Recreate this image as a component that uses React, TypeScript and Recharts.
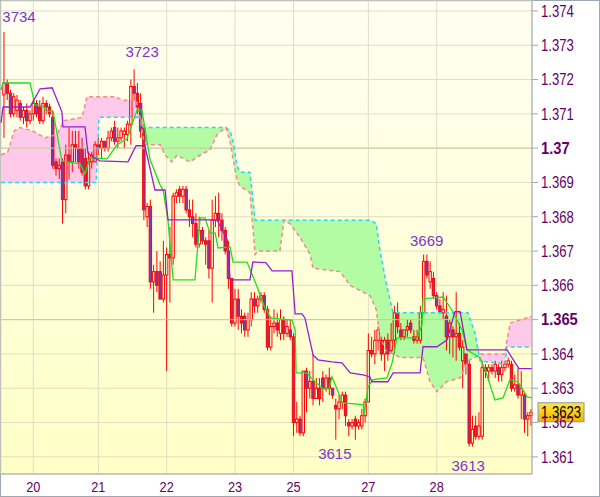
import React from "react";
import { ComposedChart, Bar, Line, Area, Scatter, XAxis, YAxis, CartesianGrid, ReferenceLine } from "recharts";

// hourly bars: open, high, low, close
const ohlc: number[][] = [
  [1.37155, 1.37339, 1.3703, 1.3719], [1.3719, 1.372, 1.3714, 1.3716], [1.3716, 1.3717, 1.3709, 1.371], [1.371, 1.3716, 1.3709, 1.3715],
  [1.3711, 1.37155, 1.3709, 1.3714], [1.3713, 1.3714, 1.3708, 1.3709], [1.3709, 1.3712, 1.3707, 1.3711], [1.3711, 1.3713, 1.3706, 1.3708],
  [1.3708, 1.3711, 1.3707, 1.371], [1.371, 1.3714, 1.3708, 1.3713], [1.3713, 1.3714, 1.3709, 1.371], [1.3712, 1.3714, 1.3707, 1.3708],
  [1.3708, 1.3715, 1.3707, 1.3713], [1.3713, 1.3714, 1.371, 1.3712], [1.3712, 1.3713, 1.3709, 1.371], [1.3709, 1.3711, 1.3694, 1.3695],
  [1.3696, 1.3697, 1.3692, 1.3694], [1.3694, 1.3697, 1.3691, 1.3695], [1.3696, 1.3697, 1.3678, 1.3685], [1.3685, 1.3701, 1.3681, 1.3698],
  [1.3698, 1.3706, 1.3691, 1.3696], [1.3696, 1.3705, 1.3693, 1.3701], [1.3701, 1.3705, 1.3696, 1.37], [1.37, 1.3705, 1.3694, 1.3696],
  [1.37, 1.3703, 1.3692, 1.3693], [1.3697, 1.37, 1.3688, 1.3689], [1.3689, 1.3699, 1.3688, 1.3696], [1.3696, 1.3699, 1.3694, 1.3698],
  [1.3696, 1.3702, 1.3696, 1.3701], [1.3701, 1.3703, 1.3698, 1.37], [1.37, 1.3703, 1.3697, 1.3702], [1.3702, 1.3702, 1.3699, 1.37],
  [1.37, 1.3705, 1.3699, 1.3703], [1.3703, 1.3706, 1.3702, 1.3705], [1.3706, 1.3708, 1.3701, 1.3702], [1.3702, 1.3706, 1.37, 1.3703],
  [1.3703, 1.3706, 1.3702, 1.3705], [1.3704, 1.3706, 1.37, 1.3705], [1.3704, 1.3708, 1.3702, 1.3707], [1.3707, 1.372, 1.3701, 1.3718],
  [1.3718, 1.3723, 1.3714, 1.3716], [1.3716, 1.3719, 1.371, 1.3712], [1.3713, 1.3716, 1.3703, 1.3705], [1.3706, 1.3707, 1.3679, 1.3682],
  [1.368, 1.3684, 1.3677, 1.3683], [1.3683, 1.3685, 1.3659, 1.3661], [1.3661, 1.3666, 1.3652, 1.3664], [1.3664, 1.367, 1.3658, 1.366],
  [1.3664, 1.3667, 1.3656, 1.3656], [1.3656, 1.3673, 1.3655, 1.3663], [1.3663, 1.3671, 1.3635, 1.3669], [1.3669, 1.3677, 1.3655, 1.3668],
  [1.3668, 1.3687, 1.3666, 1.3686], [1.3686, 1.3688, 1.3684, 1.3687], [1.3688, 1.3689, 1.3684, 1.3686], [1.3686, 1.3689, 1.3684, 1.3688],
  [1.3688, 1.3689, 1.3681, 1.3682], [1.3682, 1.3685, 1.3677, 1.368], [1.368, 1.3685, 1.3674, 1.3678], [1.3678, 1.3681, 1.3671, 1.3672],
  [1.3672, 1.368, 1.3671, 1.3676], [1.3676, 1.3677, 1.3672, 1.3673], [1.3673, 1.3674, 1.3666, 1.3672], [1.3673, 1.3676, 1.3662, 1.3665],
  [1.3665, 1.3685, 1.3655, 1.3679], [1.3679, 1.3686, 1.3677, 1.3681], [1.3681, 1.3687, 1.3674, 1.3679], [1.3679, 1.3681, 1.3673, 1.3676],
  [1.3676, 1.3677, 1.3669, 1.367], [1.367, 1.3673, 1.3659, 1.3662], [1.3662, 1.3662, 1.3648, 1.3649], [1.3649, 1.3659, 1.3648, 1.3656],
  [1.3656, 1.3659, 1.3647, 1.3651], [1.3651, 1.3653, 1.3646, 1.3649], [1.3651, 1.3652, 1.3645, 1.3647], [1.3647, 1.3652, 1.3645, 1.365],
  [1.365, 1.3658, 1.3648, 1.3656], [1.3656, 1.3658, 1.3652, 1.3654], [1.3654, 1.3657, 1.3652, 1.3656], [1.3656, 1.3658, 1.3655, 1.3657],
  [1.3657, 1.3658, 1.3652, 1.3653], [1.3653, 1.3654, 1.3641, 1.3642], [1.3642, 1.3651, 1.3641, 1.3648], [1.3648, 1.3653, 1.3646, 1.3649],
  [1.3649, 1.3652, 1.3645, 1.3647], [1.3646, 1.3653, 1.3644, 1.365], [1.365, 1.3651, 1.3644, 1.3646], [1.3646, 1.365, 1.3645, 1.3648],
  [1.3647, 1.365, 1.3644, 1.3645], [1.3645, 1.3646, 1.3616, 1.362], [1.362, 1.3626, 1.3617, 1.3621], [1.3621, 1.3622, 1.3616, 1.3617],
  [1.3617, 1.3635, 1.3616, 1.3635], [1.3635, 1.3636, 1.3623, 1.363], [1.363, 1.3635, 1.3627, 1.3632], [1.3632, 1.364, 1.3625, 1.3627],
  [1.3627, 1.3633, 1.3627, 1.363], [1.363, 1.3633, 1.3625, 1.3627], [1.3633, 1.3635, 1.3626, 1.363], [1.363, 1.3634, 1.3629, 1.3633],
  [1.3633, 1.3636, 1.3628, 1.363], [1.363, 1.363, 1.3627, 1.3628], [1.3625, 1.3627, 1.3615, 1.3624], [1.3624, 1.3628, 1.3621, 1.3626],
  [1.3626, 1.3629, 1.3624, 1.3628], [1.3628, 1.3629, 1.3619, 1.3622], [1.362, 1.3621, 1.3616, 1.3619], [1.3619, 1.3621, 1.3618, 1.362],
  [1.3621, 1.3622, 1.3615, 1.3619], [1.3619, 1.3621, 1.3618, 1.362], [1.3619, 1.3624, 1.3618, 1.3622], [1.3622, 1.3627, 1.362, 1.3626],
  [1.3626, 1.3646, 1.3626, 1.3641], [1.3641, 1.3645, 1.3639, 1.364], [1.364, 1.3647, 1.3637, 1.3644], [1.3644, 1.3648, 1.3641, 1.3647],
  [1.3644, 1.3645, 1.3638, 1.364], [1.364, 1.3645, 1.3635, 1.3644], [1.3644, 1.3646, 1.3638, 1.364], [1.3641, 1.3649, 1.364, 1.3644],
  [1.3644, 1.3654, 1.364, 1.3652], [1.3652, 1.3655, 1.3646, 1.3648], [1.3647, 1.3649, 1.3644, 1.3645], [1.3645, 1.3647, 1.3644, 1.3647],
  [1.3647, 1.365, 1.3645, 1.3648], [1.3649, 1.365, 1.3646, 1.3647], [1.3645, 1.3647, 1.3643, 1.3644], [1.3644, 1.3647, 1.3643, 1.3645],
  [1.3644, 1.3654, 1.3643, 1.3652], [1.3652, 1.3669, 1.3652, 1.3667], [1.3667, 1.3669, 1.3662, 1.3663], [1.3661, 1.3667, 1.3659, 1.3664],
  [1.3662, 1.3664, 1.3656, 1.3657], [1.3657, 1.3658, 1.3653, 1.3654], [1.3654, 1.3656, 1.3652, 1.3652], [1.3652, 1.3658, 1.365, 1.3653],
  [1.3651, 1.3657, 1.3641, 1.3645], [1.3645, 1.365, 1.364, 1.3649], [1.3647, 1.3648, 1.3639, 1.3645], [1.3645, 1.3658, 1.3638, 1.3646],
  [1.3646, 1.3649, 1.3641, 1.3642], [1.3638, 1.3644, 1.363, 1.3642], [1.364, 1.364, 1.3634, 1.3637], [1.3637, 1.3638, 1.3613, 1.3614],
  [1.3614, 1.3622, 1.3613, 1.3618], [1.3619, 1.3622, 1.3615, 1.3616], [1.3616, 1.3623, 1.3615, 1.3619], [1.3616, 1.3638, 1.3615, 1.3636],
  [1.3636, 1.3637, 1.3633, 1.3635], [1.3635, 1.3637, 1.3632, 1.3636], [1.3636, 1.3637, 1.3634, 1.3635], [1.3635, 1.3638, 1.3633, 1.3637],
  [1.3636, 1.3637, 1.3632, 1.3634], [1.3634, 1.3638, 1.3632, 1.3636], [1.3636, 1.3638, 1.3635, 1.3637], [1.3637, 1.3639, 1.3636, 1.3638],
  [1.3637, 1.3638, 1.3629, 1.363], [1.363, 1.3634, 1.3629, 1.3631], [1.3631, 1.3636, 1.3627, 1.3628], [1.3628, 1.3635, 1.3621, 1.363],
  [1.3628, 1.3629, 1.3617, 1.3621], [1.3621, 1.3623, 1.3616, 1.3622], [1.3622, 1.3624, 1.3619, 1.3623],
];

// Tenkan-sen (green): [bar, price]
const tenkan: number[][] = [
  [-0.9, 1.3717], [-0.3, 1.3719], [8.0, 1.3719], [9.5, 1.37126], [12.0, 1.37123], [12.9, 1.37109], [15.1, 1.37106],
  [17.8, 1.36963], [23.4, 1.36954], [24.9, 1.36925], [26.4, 1.36972], [31.7, 1.36969], [34.7, 1.37009], [37.8, 1.37027],
  [40.9, 1.37111], [42.4, 1.37111], [43.3, 1.37059], [44.9, 1.36966], [48.0, 1.36893], [48.9, 1.36878], [50.4, 1.36791],
  [52.0, 1.36616], [58.7, 1.36616], [60.3, 1.36797], [61.8, 1.36797], [63.3, 1.36753], [64.9, 1.36753], [65.8, 1.36709],
  [69.5, 1.36712], [70.4, 1.36668], [74.7, 1.36668], [77.8, 1.36596], [80.2, 1.36534], [80.8, 1.36529], [81.8, 1.36505],
  [88.5, 1.36499], [89.5, 1.3647], [89.8, 1.36345], [93.1, 1.36345], [95.0, 1.36325], [98.1, 1.36298], [99.9, 1.36298],
  [100.8, 1.36333], [102.7, 1.3629], [103.9, 1.36257], [110.4, 1.36252], [110.7, 1.36223], [111.9, 1.36304], [113.4, 1.36325],
  [117.7, 1.3633], [119.3, 1.36374], [120.8, 1.36447], [127.0, 1.36447], [128.5, 1.36485], [128.8, 1.36561], [135.0, 1.36566],
  [138.0, 1.36523], [140.8, 1.3647], [142.3, 1.36412], [146.3, 1.36389], [147.9, 1.36354], [150.9, 1.36266], [153.4, 1.36272],
  [155.5, 1.36325], [158.0, 1.36319], [160.8, 1.36275], [162.3, 1.36272],
];

// Kijun-sen (purple): [bar, price]
const kijun: number[][] = [
  [-0.9, 1.37074], [-0.3, 1.3712], [8.0, 1.3712], [11.1, 1.37173], [14.8, 1.37176], [17.8, 1.37106], [18.1, 1.37062],
  [24.9, 1.37062], [25.8, 1.36986], [27.4, 1.36974], [29.5, 1.36963], [38.1, 1.3696], [40.6, 1.37007], [43.3, 1.37007],
  [46.4, 1.36878], [49.5, 1.36878], [50.4, 1.36791], [65.5, 1.36791], [68.6, 1.36733], [69.5, 1.36616], [75.6, 1.36616],
  [76.5, 1.36668], [80.5, 1.36666], [82.4, 1.36642], [88.5, 1.36642], [89.5, 1.36517], [91.6, 1.36517], [92.5, 1.36505],
  [95.0, 1.36397], [96.5, 1.36383], [100.8, 1.36377], [103.9, 1.36374], [106.4, 1.36345], [110.4, 1.36339], [112.5, 1.36333],
  [113.1, 1.36319], [118.0, 1.36319], [119.6, 1.36345], [127.9, 1.36345], [128.8, 1.36421], [133.1, 1.36421], [136.2, 1.36441],
  [138.6, 1.36523], [140.2, 1.36523], [142.3, 1.36412], [154.6, 1.36412], [158.3, 1.36357], [162.3, 1.36357],
];

// Senkou span A / B: [bar, spanA, spanB]
const kumo: number[][] = [
  [-0.9, 1.369, 1.3698], [1.2, 1.369, 1.3699], [3.1, 1.369, 1.3705], [4.9, 1.369, 1.3706], [8.9, 1.369, 1.3705],
  [12.6, 1.369, 1.3703], [16.3, 1.369, 1.3704], [18.4, 1.369, 1.3708], [24.0, 1.369, 1.3709], [25.5, 1.369, 1.3715],
  [28.3, 1.369, 1.3715], [29.2, 1.3709, 1.3715], [34.1, 1.3709, 1.3715], [36.3, 1.3709, 1.3714], [40.6, 1.3709, 1.3714],
  [41.8, 1.3709, 1.3709], [43.0, 1.3706, 1.3702], [44.0, 1.3706, 1.3701], [48.0, 1.3706, 1.3701], [49.5, 1.3706, 1.3698],
  [51.6, 1.3706, 1.3696], [53.2, 1.3706, 1.3698], [55.0, 1.3706, 1.3697], [57.2, 1.3706, 1.3696], [60.3, 1.3706, 1.3698],
  [63.3, 1.3706, 1.36995], [65.5, 1.3706, 1.3704], [68.2, 1.3706, 1.3706], [69.5, 1.3705, 1.3702], [70.4, 1.3702, 1.3697],
  [71.6, 1.3695, 1.3691], [72.5, 1.3693, 1.3689], [75.6, 1.3693, 1.3687], [77.2, 1.3679, 1.3669], [78.1, 1.3679, 1.367],
  [84.8, 1.3679, 1.367], [86.1, 1.3679, 1.3679], [87.9, 1.3679, 1.3678], [91.0, 1.3679, 1.3674], [94.1, 1.3679, 1.3669],
  [95.0, 1.3679, 1.3665], [103.3, 1.3679, 1.3664], [106.4, 1.3679, 1.366], [112.5, 1.3679, 1.3657], [114.4, 1.3678, 1.3653],
  [115.6, 1.367, 1.3645], [117.4, 1.3661, 1.3641], [119.6, 1.3652, 1.364], [121.7, 1.3652, 1.3639], [128.8, 1.3652, 1.3639],
  [130.9, 1.3652, 1.3632], [133.1, 1.3652, 1.3629], [136.2, 1.3652, 1.3632], [140.2, 1.3652, 1.3633], [142.6, 1.3652, 1.3638],
  [144.8, 1.3646, 1.3639], [146.3, 1.3638, 1.364], [154.0, 1.3637, 1.364], [154.6, 1.3642, 1.3644], [155.6, 1.3642, 1.3649],
  [162.3, 1.3642, 1.3651],
];

const dayTicks = [9, 29, 50, 71, 89, 112, 133];
const dayLabels = ["20", "21", "22", "23", "25", "27", "28"];
const priceTicks = [1.361, 1.362, 1.363, 1.364, 1.365, 1.366, 1.367, 1.368, 1.369, 1.37, 1.371, 1.372, 1.373, 1.374];
const priceLabels = ["1.361", "1.362", "1.363", "1.364", "1.365", "1.366", "1.367", "1.368", "1.369", "1.37", "1.371", "1.372", "1.373", "1.374"];
const boldPrices = [1.37, 1.365];

// extreme bars that carry a label, and whether the label is on the high or the low
const markBars = [0, 40, 129, 102, 143];
const markSide = ["high", "high", "high", "low", "low"];

const candles = ohlc.map(([o, h, l, c], i) => ({ i, o, h, l, c }));
const tenkanRows = tenkan.map(([i, v]) => ({ i, v }));
const kijunRows = kijun.map(([i, v]) => ({ i, v }));
const kumoRows = kumo.map(([i, a, b]) => ({ i, a, b }));
const marks = markBars.map((i, k) => {
  const p = markSide[k] === "high" ? candles[i].h : candles[i].l;
  return { i, p, k, text: String(Math.round(p * 10000) % 10000) };
});
const last = candles[candles.length - 1];
const lastRows = [{ i: last.i, p: last.c }];

const markOffsets = [[15, -15], [8, -18], [3, -14], [-1, 14], [-1, 19]];
const axisColor = "#9ea8b2";
const labelColor = "#660066";
const font = "'Liberation Sans', Arial, sans-serif";

const Candle = (props: any) => {
  const { x, y, width, height, payload } = props;
  if (x == null || !payload) return null;
  const cx = x + width / 2;
  const top = Math.min(y, y + height);
  const len = Math.abs(height);
  const span = payload.h - payload.l;
  const k = span > 0 ? len / span : 0;
  const yOf = (v: number) => top + (payload.h - v) * k;
  const bTop = yOf(Math.max(payload.o, payload.c));
  const bBot = yOf(Math.min(payload.o, payload.c));
  const bear = payload.c < payload.o;
  return (
    <g>
      <line x1={cx} x2={cx} y1={top} y2={bTop} stroke="#ff0000" />
      <line x1={cx} x2={cx} y1={bBot} y2={top + len} stroke="#ff0000" />
      <rect x={cx - 1.2} y={bTop} width={2.4} height={Math.max(bBot - bTop, 0.6)} fill={bear ? "#7a3ea6" : "none"} stroke="#ff0000" strokeWidth={1} />
    </g>
  );
};

const Mark = (props: any) => {
  const { cx, cy, payload } = props;
  if (cx == null || !payload) return null;
  const [dx, dy] = markOffsets[payload.k];
  return (
    <text x={cx + dx} y={cy + dy} dy="0.36em" textAnchor="middle" fontSize={15} fontFamily={font} fill="#7f35c9">
      {payload.text}
    </text>
  );
};

const PriceBox = (props: any) => {
  const { cx, cy, payload } = props;
  if (cx == null || !payload) return null;
  const bx = cx + 7;
  return (
    <g>
      <rect x={bx} y={cy - 9.5} width={46} height={19} fill="url(#boxGrad)" stroke="#8a96a4" />
      <text transform={`translate(${bx + 23},${cy}) scale(0.82,1)`} dy="0.36em" textAnchor="middle" fontSize={16} fontFamily={font} fill="#000000">
        {payload.p.toFixed(4)}
      </text>
    </g>
  );
};

const YTick = (props: any) => {
  const { x, y, payload, index } = props;
  const bold = boldPrices.includes(payload.value);
  return (
    <text transform={`translate(${x},${y}) scale(${bold ? 0.92 : 0.82},1)`} dy="0.36em" textAnchor="start" fontSize={16} fontWeight={bold ? 700 : 400} fontFamily={font} fill={labelColor}>
      {priceLabels[index] ?? String(payload.value)}
    </text>
  );
};

const XTick = (props: any) => {
  const { x, y, index } = props;
  return (
    <text transform={`translate(${x},${y + 18}) scale(0.85,1)`} textAnchor="middle" fontSize={15} fontFamily={font} fill={labelColor}>
      {dayLabels[index]}
    </text>
  );
};

export default function App() {
  return (
    <div style={{ position: "absolute", left: 0, top: 0, width: 600, height: 497, background: "#ffffff", boxShadow: `inset 0 0 0 1px ${axisColor}` }}>
      <ComposedChart width={600} height={497} data={candles} margin={{ top: 1, right: 0, bottom: 0, left: 1 }}>
        <defs>
          <linearGradient id="bgGrad" x1="0" y1="0" x2="0" y2="1">
            <stop offset="0%" stopColor="#fffff3" />
            <stop offset="100%" stopColor="#ffffc6" />
          </linearGradient>
          <linearGradient id="boxGrad" x1="0" y1="0" x2="0" y2="1">
            <stop offset="0%" stopColor="#ffe54a" />
            <stop offset="100%" stopColor="#f0b400" />
          </linearGradient>
        </defs>
        <CartesianGrid stroke="#e0ddc2" fill="url(#bgGrad)" fillOpacity={1} />
        <XAxis
          dataKey="i"
          type="number"
          domain={[-0.92, 162.3]}
          ticks={dayTicks}
          interval={0}
          tick={<XTick />}
          tickLine={false}
          tickSize={0}
          tickMargin={0}
          height={23}
          axisLine={{ stroke: axisColor }}
        />
        <YAxis
          orientation="right"
          type="number"
          domain={[1.3605, 1.37429]}
          ticks={priceTicks}
          interval={0}
          tick={<YTick />}
          tickSize={6}
          tickMargin={3}
          width={68}
          axisLine={{ stroke: axisColor }}
          tickLine={{ stroke: axisColor }}
        />
        <ReferenceLine y={1.37} stroke="#cbc7a2" />
        <ReferenceLine y={1.365} stroke="#cbc7a2" />
        <Area data={kumoRows} dataKey={(d: any) => [d.b, Math.max(d.a, d.b)]} type="linear" stroke="none" fill="#b3fca4" fillOpacity={1} isAnimationActive={false} />
        <Area data={kumoRows} dataKey={(d: any) => [d.a, Math.max(d.a, d.b)]} type="linear" stroke="none" fill="#ffcaea" fillOpacity={1} isAnimationActive={false} />
        <Line data={kumoRows} dataKey="a" type="linear" stroke="#2ad6ee" strokeWidth={1.5} strokeDasharray="4 3" dot={false} isAnimationActive={false} />
        <Line data={kumoRows} dataKey="b" type="linear" stroke="#f28a8a" strokeWidth={1.5} strokeDasharray="4 3" dot={false} isAnimationActive={false} />
        <Bar dataKey={(d: any) => [d.l, d.h]} barSize={3} shape={<Candle />} isAnimationActive={false} />
        <Line data={tenkanRows} dataKey="v" type="linear" stroke="#1ee01e" strokeWidth={1.3} dot={false} isAnimationActive={false} />
        <Line data={kijunRows} dataKey="v" type="linear" stroke="#9a1ed0" strokeWidth={1.3} dot={false} isAnimationActive={false} />
        <Scatter data={marks} dataKey="p" shape={<Mark />} isAnimationActive={false} />
        <Scatter data={lastRows} dataKey="p" shape={<PriceBox />} isAnimationActive={false} />
      </ComposedChart>
    </div>
  );
}
